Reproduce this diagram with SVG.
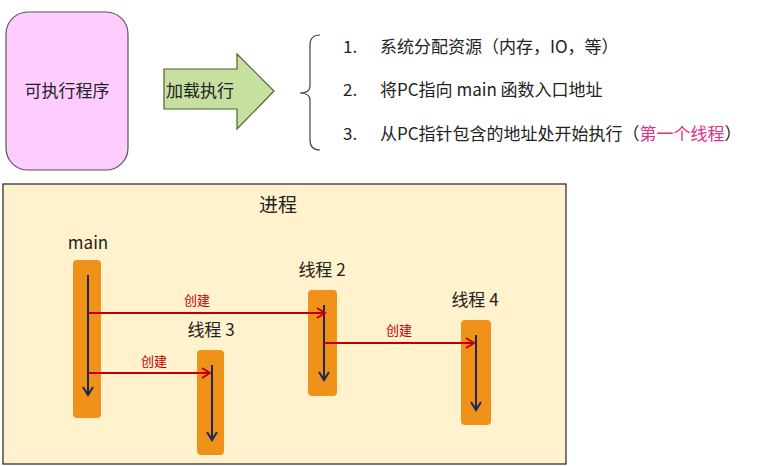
<svg xmlns="http://www.w3.org/2000/svg" width="776" height="466" viewBox="0 0 776 466">
<style>
text{font-family:"Noto Sans CJK SC","Liberation Sans",sans-serif;fill:#222}
.bar{fill:#f0921a}
.blue{stroke:#1a2a55;stroke-width:2;fill:none}
.red{stroke:#c00000;stroke-width:2;fill:none}
.lbl{font-size:13px;fill:#c00000}
.t{font-size:17px}
</style>
<defs>
<marker id="ab" markerWidth="12" markerHeight="12" refX="10" refY="6" orient="auto" markerUnits="userSpaceOnUse"><path d="M2,1 L10,6 L2,11" class="blue"/></marker>
<marker id="ar" markerWidth="12" markerHeight="12" refX="10" refY="6" orient="auto" markerUnits="userSpaceOnUse"><path d="M2,1 L10,6 L2,11" class="red"/></marker>
</defs>
<g id="exe"><rect x="6" y="12" width="122" height="158" rx="22" fill="#ffccff" stroke="#555" stroke-width="1.2"/><text x="67" y="97" text-anchor="middle" font-size="17">可执行程序</text></g>
<g id="load"><path d="M164,69 H237 V54 L274,91 L237,129 V109 H164 Z" fill="#c6e0a0" stroke="#4f6228" stroke-width="1.2"/><text x="200" y="97" text-anchor="middle" font-size="17">加载执行</text></g>
<g id="list"><path d="M320,35 Q310,35 310,45 V86 Q310,93 300,93 Q310,93 310,100 V140 Q310,150 320,150" fill="none" stroke="#444" stroke-width="1.2"/>
<text x="343" y="53" class="t">1.</text><text x="380" y="53" class="t">系统分配资源（内存，IO，等）</text>
<text x="343" y="96" class="t">2.</text><text x="380" y="96" class="t">将PC指向 main 函数入口地址</text>
<text x="343" y="140" class="t">3.</text><text x="380" y="140" class="t">从PC指针包含的地址处开始执行（<tspan fill="#e0308a">第一个线程</tspan>）</text></g>
<g id="process"><rect x="3" y="184" width="563" height="280" fill="#fff2cc" stroke="#222" stroke-width="1.2"/><text x="278" y="212" text-anchor="middle" font-size="19">进程</text></g>
<g id="main"><text x="88" y="249" text-anchor="middle" font-size="17">main</text><rect class="bar" x="73" y="260" width="28" height="158" rx="4"/></g>
<g id="t3"><text x="211" y="336" text-anchor="middle" font-size="17">线程 3</text><rect class="bar" x="197" y="350" width="27" height="105" rx="4"/></g>
<g id="t2"><text x="322" y="276" text-anchor="middle" font-size="17">线程 2</text><rect class="bar" x="308" y="290" width="29" height="106" rx="4"/></g>
<g id="t4"><text x="475" y="306" text-anchor="middle" font-size="17">线程 4</text><rect class="bar" x="461" y="320" width="30" height="105" rx="4"/></g>
<g id="connectors">
<line class="blue" x1="88" y1="275" x2="88" y2="395" marker-end="url(#ab)"/>
<line class="blue" x1="212" y1="365" x2="212" y2="440" marker-end="url(#ab)"/>
<line class="blue" x1="324" y1="305" x2="324" y2="380" marker-end="url(#ab)"/>
<line class="blue" x1="476" y1="335" x2="476" y2="410" marker-end="url(#ab)"/>
<line class="red" x1="88" y1="313" x2="325" y2="313" marker-end="url(#ar)"/>
<line class="red" x1="88" y1="373" x2="210" y2="373" marker-end="url(#ar)"/>
<line class="red" x1="324" y1="343" x2="474" y2="343" marker-end="url(#ar)"/>
<text class="lbl" x="197" y="305" text-anchor="middle">创建</text>
<text class="lbl" x="154" y="366" text-anchor="middle">创建</text>
<text class="lbl" x="399" y="335" text-anchor="middle">创建</text>
</g>
</svg>
